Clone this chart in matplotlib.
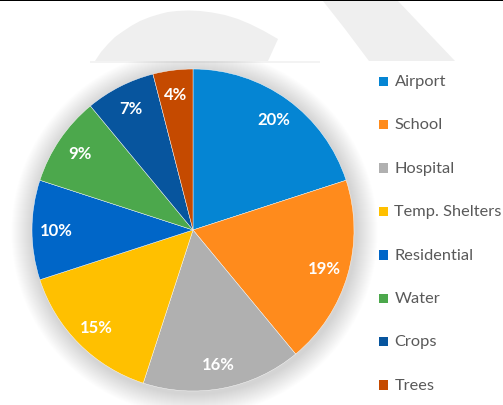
import matplotlib.pyplot as plt
from matplotlib.patches import Polygon, Rectangle, Circle

# damage share by category
categories = ['Airport', 'School', 'Hospital', 'Temp. Shelters',
              'Residential', 'Water', 'Crops', 'Trees']
shares = [20, 19, 16, 15, 10, 9, 7, 4]
colors = ['#0585d3', '#ff8b1c', '#b0b0b0', '#ffc000',
          '#0066c8', '#4ca84c', '#07559e', '#c54a00']

W, H = 503, 406
fig = plt.figure(figsize=(W / 100, H / 100), dpi=100)
ax = fig.add_axes([0, 0, 1, 1])

def fy(y):
    # pixel rows counted from the top
    return H - y

# light grey backdrop shapes behind the chart area
arc_pts = [(95, 62), (101, 53), (108, 45), (115, 38), (122, 33), (131, 27),
           (140, 22), (150, 18), (160, 15), (168, 13), (177, 12), (188, 11.5),
           (200, 12), (212, 13.5), (225, 16), (238, 20), (250, 25),
           (264, 32), (278, 40), (268, 62)]
ax.add_patch(Polygon([(x, fy(y)) for x, y in arc_pts], closed=True,
                     facecolor='#efefef', edgecolor='none', zorder=0))
band_pts = [(323, 2), (398, 2), (455, 62), (369, 62), (345, 30)]
ax.add_patch(Polygon([(x, fy(y)) for x, y in band_pts], closed=True,
                     facecolor='#efefef', edgecolor='none', zorder=0))
ax.add_patch(Rectangle((0, fy(2)), W, 2, facecolor='black',
                       edgecolor='none', zorder=5))

# white chart area on top of the backdrop
area = Rectangle((0, 0), W, fy(62), facecolor='white',
                 edgecolor='none', zorder=0.5)
ax.add_patch(area)
ax.add_patch(Rectangle((90, fy(62) - 1.5), 230, 1.5, facecolor='#f3f3f3',
                       edgecolor='none', zorder=0.6))

cx, cy, r = 193, 231, 161

# soft glow under the pie, built from stacked faint discs
for k in range(22, 0, -1):
    glow = Circle((cx + 1.5, fy(cy) - 2.5), r + k, facecolor='#808080',
                  edgecolor='none', alpha=0.013, zorder=1)
    ax.add_patch(glow)
    glow.set_clip_path(area)

wedges, _, autotexts = ax.pie(
    shares, colors=colors, center=(cx, fy(cy)), radius=r,
    startangle=90, counterclock=False,
    autopct=lambda p: f'{p:.0f}%', pctdistance=0.85,
    wedgeprops=dict(edgecolor='white', linewidth=0.3),
    textprops=dict(color='white', fontsize=12, fontweight='bold',
                   family='Lato'))
for w in wedges:
    w.set_zorder(2)
for t in autotexts:
    t.set_zorder(3)

# legend on the right
for i, (name, c) in enumerate(zip(categories, colors)):
    y = 82 + i * 43.4
    ax.add_patch(Rectangle((379, fy(y) - 5), 9.5, 9.5, facecolor=c,
                           edgecolor='none', zorder=3))
    ax.text(394.5, fy(y), name, fontsize=11.8, color='#595959',
            family='Lato', va='center', ha='left', zorder=3)

ax.set_xlim(0, W)
ax.set_ylim(0, H)
ax.set_aspect('auto')
ax.axis('off')

fig.savefig('out.png', dpi=100, facecolor='white')
